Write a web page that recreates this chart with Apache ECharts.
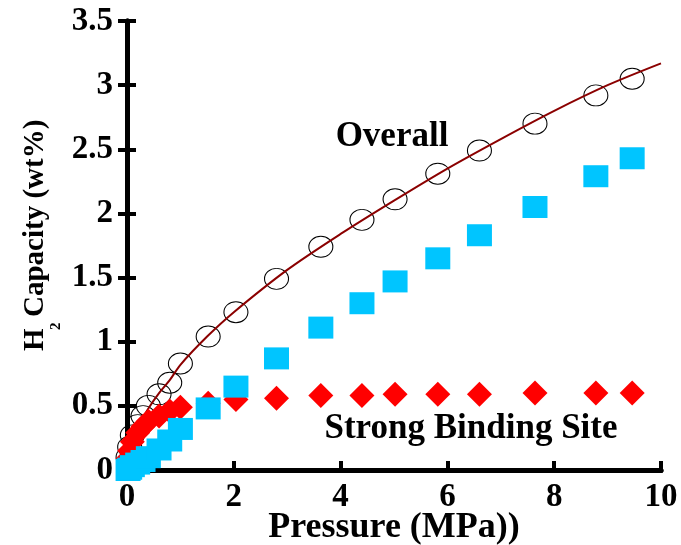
<!DOCTYPE html>
<html>
<head>
<meta charset="utf-8">
<script src="https://cdn.jsdelivr.net/npm/echarts@6/dist/echarts.min.js"></script>
<style>
  html, body { margin: 0; padding: 0; background: #fff; }
  #chart { width: 681px; height: 545px; }
</style>
</head>
<body>
<div id="chart"></div>
<script>
// Hydrogen uptake isotherm: pressure in MPa, capacity in wt%
const pressure = [0.02, 0.05, 0.1, 0.2, 0.3, 0.4, 0.6, 0.8, 1.0, 1.52, 2.04, 2.8, 3.63, 4.4, 5.02, 5.82, 6.6, 7.64, 8.78, 9.46];
const overall  = [0.10, 0.18, 0.27, 0.35, 0.42, 0.50, 0.59, 0.68, 0.83, 1.04, 1.23, 1.49, 1.74, 1.95, 2.11, 2.31, 2.49, 2.70, 2.92, 3.05];
const strongSite = [0.09, 0.15, 0.22, 0.29, 0.34, 0.38, 0.42, 0.46, 0.49, 0.52, 0.55, 0.56, 0.58, 0.58, 0.59, 0.59, 0.59, 0.60, 0.60, 0.60];
const weakSite = [0.00, 0.01, 0.03, 0.05, 0.07, 0.10, 0.16, 0.23, 0.32, 0.48, 0.65, 0.87, 1.11, 1.30, 1.47, 1.65, 1.83, 2.05, 2.29, 2.43];

// Fitted curve through the overall uptake
const fitP = [0, 0.05, 0.1, 0.2, 0.4, 0.6, 0.8, 1.0, 1.5, 2, 3, 4, 5, 6, 7, 8, 9, 10];
const fitV = [0.02, 0.17, 0.25, 0.34, 0.48, 0.60, 0.70, 0.82, 1.04, 1.23, 1.56, 1.84, 2.10, 2.35, 2.58, 2.80, 3.00, 3.17];

const xTicks = [0, 2, 4, 6, 8, 10];
const yTicks = [0, 0.5, 1, 1.5, 2, 2.5, 3, 3.5];

const FONT = '"Liberation Serif", "Times New Roman", serif';
const zip = (xs, ys) => xs.map((x, i) => [x, ys[i]]);

const chart = echarts.init(document.getElementById('chart'), null, { renderer: 'canvas' });

const axisLine = { show: true, lineStyle: { color: '#000', width: 5 } };
const inTick = { show: true, inside: true, length: 9, lineStyle: { color: '#000', width: 4 } };

chart.setOption({
  animation: false,
  backgroundColor: '#fff',
  grid: { left: 127, right: 20, top: 21, bottom: 75, containLabel: false, outerBoundsMode: 'none' },
  xAxis: [
    {
      type: 'value', min: 0, max: 10, interval: 2,
      axisLine: axisLine, axisTick: inTick,
      axisLabel: { color: '#000', fontFamily: FONT, fontWeight: 'bold', fontSize: 33, margin: 11,
                   formatter: v => (xTicks.indexOf(v) >= 0 ? String(v) : '') },
      splitLine: { show: false },
      name: 'Pressure (MPa))', nameLocation: 'middle', nameGap: 40, nameMoveOverlap: false,
      nameTextStyle: { color: '#000', fontFamily: FONT, fontWeight: 'bold', fontSize: 36, verticalAlign: 'top' }
    },
    {
      type: 'value', min: 0, max: 10, interval: 2, position: 'top',
      axisLine: axisLine, axisTick: { show: false }, axisLabel: { show: false }, splitLine: { show: false }
    }
  ],
  yAxis: [
    {
      type: 'value', min: 0, max: 3.5, interval: 0.5,
      axisLine: axisLine, axisTick: inTick,
      axisLabel: { color: '#000', fontFamily: FONT, fontWeight: 'bold', fontSize: 33, margin: 14,
                   formatter: v => (yTicks.indexOf(v) >= 0 ? String(v) : '') },
      splitLine: { show: false }
    },
    {
      type: 'value', min: 0, max: 3.5, interval: 0.5, position: 'right',
      axisLine: axisLine, axisTick: inTick,
      axisLabel: { show: false }, splitLine: { show: false }
    }
  ],
  series: [
    {
      name: 'Overall', type: 'scatter', data: zip(pressure, overall), z: 2, clip: false,
      symbol: 'circle', symbolSize: [24, 21],
      itemStyle: { color: 'rgba(0,0,0,0)', borderColor: '#000', borderWidth: 1, opacity: 1 }
    },
    {
      name: 'Fit', type: 'line', data: zip(fitP, fitV), z: 3, smooth: 0.3, showSymbol: false, symbol: 'none',
      lineStyle: { color: '#8B0000', width: 2 }
    },
    {
      name: 'Strong Binding Site', type: 'scatter', data: zip(pressure, strongSite), z: 4, clip: false,
      symbol: 'diamond', symbolSize: [25, 25],
      itemStyle: { color: '#FF0000', opacity: 1 }
    },
    {
      name: 'Weak Site', type: 'scatter', data: zip(pressure, weakSite), z: 5, clip: false,
      symbol: 'rect', symbolSize: [25, 22],
      itemStyle: { color: '#00C5FF', opacity: 1 }
    }
  ],
  graphic: [
    {
      type: 'group', x: 50, y: 235, rotation: Math.PI / 2,
      children: [
        { type: 'text', x: -116, y: 0, style: { text: 'H', font: 'bold 29px ' + FONT, fill: '#000', align: 'left', verticalAlign: 'bottom' } },
        { type: 'text', x: -95, y: 14, style: { text: '2', font: 'bold 15px ' + FONT, fill: '#000', align: 'left', verticalAlign: 'bottom' } },
        { type: 'text', x: -82, y: 0, style: { text: 'Capacity (wt%)', font: 'bold 29px ' + FONT, fill: '#000', align: 'left', verticalAlign: 'bottom' } }
      ]
    },
    { type: 'text', x: 392, y: 137, style: { text: 'Overall', font: 'bold 35px ' + FONT, fill: '#000', align: 'center', verticalAlign: 'middle' } },
    { type: 'text', x: 471, y: 429, style: { text: 'Strong Binding Site', font: 'bold 35px ' + FONT, fill: '#000', align: 'center', verticalAlign: 'middle' } }
  ]
});
</script>
</body>
</html>
